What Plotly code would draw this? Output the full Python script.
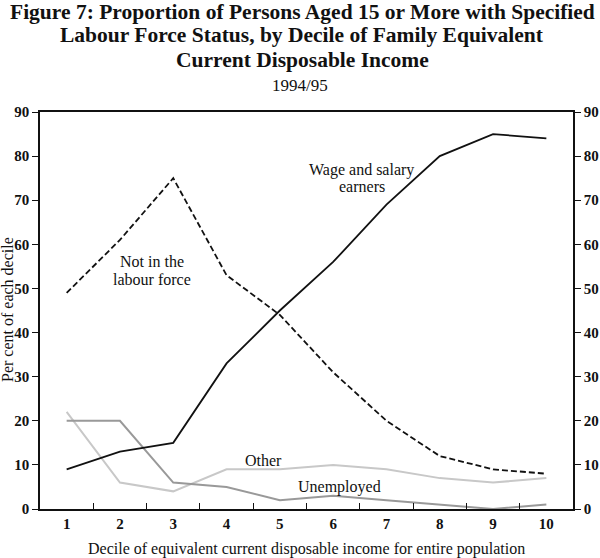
import plotly.graph_objects as go

deciles = ["1", "2", "3", "4", "5", "6", "7", "8", "9", "10"]
wage_salary = [9, 13, 15, 33, 45, 56, 69, 80, 85, 84]
not_in_lf = [49, 61, 75, 53, 44, 31, 20, 12, 9, 8]
other = [22, 6, 4, 9, 9, 10, 9, 7, 6, 7]
unemployed = [20, 20, 6, 5, 2, 3, 2, 1, 0, 1]
y_ticks = [0, 10, 20, 30, 40, 50, 60, 70, 80, 90]

title_lines = [
    "Figure 7: Proportion of Persons Aged 15 or More with Specified",
    "Labour Force Status, by Decile of Family Equivalent",
    "Current Disposable Income",
]
subtitle = "1994/95"

serif = "Liberation Serif"
W, H = 600, 558
T, B, L, R = 112, 49, 40, 27
PH = H - T - B
PW = W - L - R


def py(pixel_y):
    return 1 + (T - pixel_y) / PH


def px(pixel_x):
    return (pixel_x - L) / PW


fig = go.Figure()
fig.add_trace(go.Scatter(x=deciles, y=other, mode="lines",
                         line=dict(color="#c8c8c8", width=2), name="Other"))
fig.add_trace(go.Scatter(x=deciles, y=unemployed, mode="lines",
                         line=dict(color="#999999", width=2), name="Unemployed"))
fig.add_trace(go.Scatter(x=deciles, y=not_in_lf, mode="lines",
                         line=dict(color="#111111", width=1.8, dash="6px,3px"), name="Not in the labour force"))
fig.add_trace(go.Scatter(x=deciles, y=wage_salary, mode="lines",
                         line=dict(color="#111111", width=1.8), name="Wage and salary earners"))
# invisible trace for right axis
fig.add_trace(go.Scatter(x=deciles, y=wage_salary, yaxis="y2", mode="lines",
                         line=dict(width=0), opacity=0, hoverinfo="skip", showlegend=False))

tickfont = dict(family=serif, size=15, color="#111111", weight="bold")

fig.update_layout(
    width=W, height=H,
    margin=dict(l=L, r=R, t=T, b=B, autoexpand=False),
    paper_bgcolor="white", plot_bgcolor="white",
    showlegend=False,
    font=dict(family=serif, color="#111111"),
    xaxis=dict(
        type="category", range=[-0.5, 9.5], automargin=False,
        tickson="boundaries", ticks="inside", ticklen=6, tickcolor="#111111",
        showline=True, linecolor="#111111", linewidth=1.5, mirror=True,
        showgrid=False, zeroline=False, tickfont=tickfont,
    ),
    yaxis=dict(
        range=[0, 90], tickvals=y_ticks, ticks="outside", ticklen=6, tickcolor="#111111",
        showline=True, linecolor="#111111", linewidth=1.5, automargin=False,
        showgrid=False, zeroline=False, tickfont=tickfont,
    ),
    yaxis2=dict(
        range=[0, 90], tickvals=y_ticks, ticks="outside", ticklen=6, tickcolor="#111111",
        overlaying="y", side="right", automargin=False,
        showline=True, linecolor="#111111", linewidth=1.5,
        showgrid=False, zeroline=False, tickfont=tickfont,
    ),
)

for line, yc in zip(title_lines, [12, 35, 60]):
    fig.add_annotation(text="<b>" + line + "</b>", xref="paper", yref="paper",
                       x=px(302), y=py(yc), xanchor="center", yanchor="middle",
                       showarrow=False, font=dict(family=serif, size=21.5, color="#111111"))
fig.add_annotation(text=subtitle, xref="paper", yref="paper", x=px(300), y=py(85),
                   xanchor="center", yanchor="middle", showarrow=False,
                   font=dict(family=serif, size=17, color="#111111"))

fig.add_annotation(text="Decile of equivalent current disposable income for entire population",
                   xref="paper", yref="paper", x=px(306), y=py(549),
                   xanchor="center", yanchor="middle", showarrow=False,
                   font=dict(family=serif, size=16, color="#111111"))
fig.add_annotation(text="Per cent of each decile", xref="paper", yref="paper",
                   x=px(7), y=py(310), xanchor="center", yanchor="middle",
                   textangle=-90, showarrow=False,
                   font=dict(family=serif, size=16, color="#111111"))

label_font = dict(family=serif, size=16, color="#111111")
labels = [
    ("Wage and salary", 5.54, 76.9),
    ("earners", 5.54, 73.0),
    ("Not in the", 1.60, 56.0),
    ("labour force", 1.60, 52.1),
    ("Other", 3.70, 11.1),
    ("Unemployed", 5.11, 5.0),
]
for text, xv, yv in labels:
    fig.add_annotation(text=text, x=xv, y=yv, xref="x", yref="y",
                       showarrow=False, font=label_font)

fig.write_html("out.html", config={"displayModeBar": False},
               post_script="document.body.style.margin='0px';")
